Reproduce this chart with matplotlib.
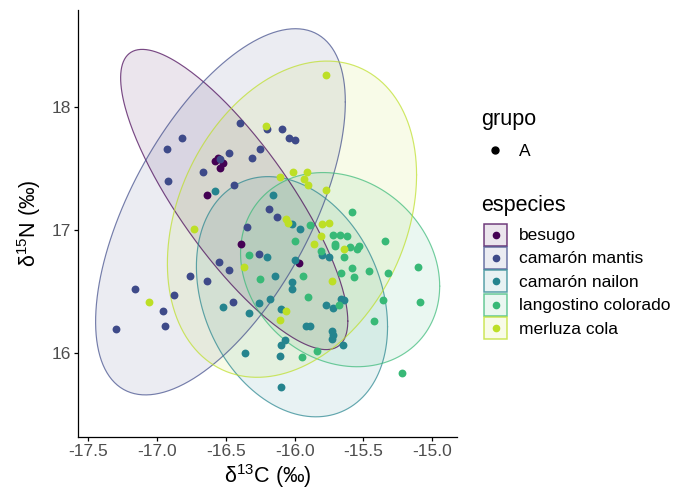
import numpy as np
import matplotlib.pyplot as plt
from matplotlib.patches import Rectangle

plt.rcParams['font.family'] = ['Liberation Sans', 'DejaVu Sans']
plt.rcParams['mathtext.fontset'] = 'custom'
plt.rcParams['mathtext.rm'] = 'Liberation Sans'
plt.rcParams['mathtext.it'] = 'Liberation Sans:italic'

especies = ['besugo', 'camarón mantis', 'camarón nailon', 'langostino colorado', 'merluza cola']

# isotope values per species (d13C, d15N)
besugo_c = [-16.58, -16.54, -16.52, -16.56, -16.64, -16.39, -15.97]
besugo_n = [17.56, 17.51, 17.55, 17.59, 17.29, 16.89, 16.73]

mantis_c = [-17.30, -17.16, -16.96, -16.94, -16.93, -16.92, -16.88, -16.82, -16.76, -16.67,
            -16.64, -16.55, -16.54, -16.48, -16.48, -16.45, -16.44, -16.40, -16.35, -16.31,
            -16.26, -16.25, -16.20, -16.19, -16.13, -16.09, -16.04, -16.00]
mantis_n = [16.20, 16.52, 16.34, 16.22, 17.66, 17.40, 16.47, 17.75, 16.63, 17.47,
            16.59, 16.74, 17.58, 17.63, 16.68, 16.42, 17.37, 17.87, 17.03, 17.59,
            16.81, 17.66, 17.82, 17.17, 17.11, 17.82, 17.75, 17.73]

nailon_c = [-16.58, -16.16, -16.02, -15.96, -16.20, -16.14, -16.52, -16.33, -16.26, -16.18,
            -16.36, -16.11, -16.00, -16.02, -16.02, -16.10, -15.77, -15.72, -15.66, -15.64,
            -15.92, -15.89, -15.73, -15.72, -15.73, -16.07, -16.10, -15.65, -16.10, -15.80,
            -15.75]
nailon_n = [17.32, 17.29, 17.05, 17.01, 16.78, 16.63, 16.38, 16.33, 16.41, 16.44,
            16.00, 15.98, 16.76, 16.58, 16.52, 16.36, 16.39, 16.37, 16.44, 16.43,
            16.22, 16.22, 16.18, 16.15, 16.12, 16.11, 16.07, 16.07, 15.73, 16.80,
            16.78]

langostino_c = [-15.58, -15.89, -15.72, -15.67, -15.62, -15.71, -15.60, -15.55, -15.53, -15.64,
                -15.58, -15.46, -15.57, -15.66, -15.34, -15.32, -15.10, -15.09, -15.36, -15.42,
                -15.22, -16.00, -15.81, -15.94, -15.90, -15.95, -15.84, -16.33, -16.25, -15.68,
                -15.71]
langostino_n = [17.15, 17.04, 16.96, 16.96, 16.95, 16.89, 16.86, 16.85, 16.87, 16.78,
                16.69, 16.67, 16.62, 16.65, 16.91, 16.65, 16.70, 16.42, 16.43, 16.26,
                15.84, 16.91, 16.83, 16.63, 16.46, 15.97, 16.02, 16.80, 16.60, 16.39,
                16.87]

merluza_c = [-15.77, -16.21, -16.11, -16.01, -15.91, -15.93, -15.90, -15.77, -16.06, -16.05,
             -15.80, -15.75, -16.73, -17.06, -16.37, -16.06, -16.11, -15.86, -15.81, -15.73,
             -15.64]
merluza_n = [18.26, 17.85, 17.43, 17.47, 17.47, 17.42, 17.37, 17.33, 17.09, 17.06,
             17.05, 17.06, 17.01, 16.42, 16.70, 16.34, 16.27, 16.89, 16.95, 16.59,
             16.85]

d13c = [besugo_c, mantis_c, nailon_c, langostino_c, merluza_c]
d15n = [besugo_n, mantis_n, nailon_n, langostino_n, merluza_n]

# ellipses: centre, half-extent in x and y, correlation
ell_cx = [-16.44, -16.54, -16.02, -15.67, -16.02]
ell_cy = [17.25, 17.15, 16.46, 16.68, 17.09]
ell_sx = [0.826, 0.908, 0.695, 0.724, 0.906]
ell_sy = [1.220, 1.488, 0.976, 0.789, 1.285]
ell_rho = [-0.81, 0.60, -0.25, -0.17, 0.28]

colors = plt.cm.viridis(np.linspace(0, 0.9, len(especies)))

fig = plt.figure(figsize=(6.76, 4.92), dpi=100)
ax = fig.add_axes([78 / 676, 55 / 492, 379 / 676, 427 / 492])

t = np.linspace(0, 2 * np.pi, 300)
for i in range(len(especies)):
    ex = ell_cx[i] + ell_sx[i] * np.cos(t)
    ey = ell_cy[i] + ell_sy[i] * (ell_rho[i] * np.cos(t) + np.sqrt(1 - ell_rho[i] ** 2) * np.sin(t))
    ax.fill(ex, ey, color=colors[i], alpha=0.1, lw=0)
    ax.plot(ex, ey, color=colors[i], alpha=0.7, lw=0.85)

for i in range(len(especies)):
    ax.scatter(d13c[i], d15n[i], s=32, color=colors[i], linewidths=0, zorder=3)

ax.set_xlim(-17.576, -14.82)
ax.set_ylim(15.32, 18.79)
ax.set_xticks([-17.5, -17.0, -16.5, -16.0, -15.5, -15.0])
ax.set_xticklabels(['-17.5', '-17.0', '-16.5', '-16.0', '-15.5', '-15.0'])
ax.set_yticks([16, 17, 18])
for s in ['top', 'right']:
    ax.spines[s].set_visible(False)
for s in ['left', 'bottom']:
    ax.spines[s].set_linewidth(0.9)
ax.tick_params(length=3, width=0.9, pad=2, labelsize=12.5, labelcolor='#4D4D4D')
ax.set_xlabel('δ$^{13}$C (‰)', fontsize=15.5, labelpad=2)
ax.set_ylabel('δ$^{15}$N (‰)', fontsize=15.5, labelpad=6)

# legend drawn in pixel space
lax = fig.add_axes([0, 0, 1, 1], zorder=5)
lax.set_xlim(0, 676)
lax.set_ylim(492, 0)
lax.axis('off')

lax.text(481, 119, 'grupo', fontsize=15.5, va='center', ha='left')
lax.plot([495], [150], 'o', color='black', ms=5)
lax.text(519, 151, 'A', fontsize=12.5, va='center', ha='left')

lax.text(481, 205, 'especies', fontsize=15.5, va='center', ha='left')
for i, name in enumerate(especies):
    yc = 234.5 + 23.4 * i
    lax.add_patch(Rectangle((484, yc - 11), 23, 22, facecolor=(*colors[i][:3], 0.1),
                           edgecolor=(*colors[i][:3], 0.75), lw=1.1))
    lax.plot([495.5], [yc], 'o', color=colors[i], ms=4.5)
    lax.text(519, yc + 1, name, fontsize=12.5, va='center', ha='left')

fig.savefig('out.png', dpi=100)
